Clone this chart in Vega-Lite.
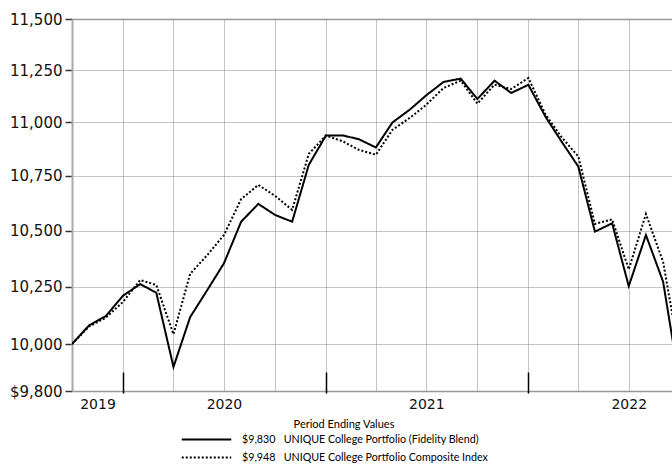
{
  "$schema": "https://vega.github.io/schema/vega-lite/v6.json",
  "width": 600,
  "height": 372,
  "autosize": {"type": "none"},
  "padding": {"left": 72, "top": 19, "right": 0, "bottom": 76},
  "background": "white",
  "config": {"view": {"stroke": null}},
  "datasets": {
    "vals": [
      {"d":"2019-09-30","s":"F","v":10000},{"d":"2019-10-31","s":"F","v":10081},{"d":"2019-11-30","s":"F","v":10121},{"d":"2019-12-31","s":"F","v":10210},
      {"d":"2020-01-31","s":"F","v":10261},{"d":"2020-02-29","s":"F","v":10223},{"d":"2020-03-31","s":"F","v":9902},{"d":"2020-04-30","s":"F","v":10116},
      {"d":"2020-05-31","s":"F","v":10235},{"d":"2020-06-30","s":"F","v":10353},{"d":"2020-07-31","s":"F","v":10540},{"d":"2020-08-31","s":"F","v":10621},
      {"d":"2020-09-30","s":"F","v":10571},{"d":"2020-10-31","s":"F","v":10540},{"d":"2020-11-30","s":"F","v":10801},{"d":"2020-12-31","s":"F","v":10938},
      {"d":"2021-01-31","s":"F","v":10938},{"d":"2021-02-28","s":"F","v":10921},{"d":"2021-03-31","s":"F","v":10882},{"d":"2021-04-30","s":"F","v":11000},
      {"d":"2021-05-31","s":"F","v":11060},{"d":"2021-06-30","s":"F","v":11129},{"d":"2021-07-31","s":"F","v":11193},{"d":"2021-08-31","s":"F","v":11209},
      {"d":"2021-09-30","s":"F","v":11111},{"d":"2021-10-31","s":"F","v":11199},{"d":"2021-11-30","s":"F","v":11140},{"d":"2021-12-31","s":"F","v":11179},
      {"d":"2022-01-31","s":"F","v":11026},{"d":"2022-02-28","s":"F","v":10913},{"d":"2022-03-31","s":"F","v":10793},{"d":"2022-04-30","s":"F","v":10495},
      {"d":"2022-05-31","s":"F","v":10533},{"d":"2022-06-30","s":"F","v":10252},{"d":"2022-07-31","s":"F","v":10480},{"d":"2022-08-31","s":"F","v":10271},
      {"d":"2022-09-30","s":"F","v":9830},
      {"d":"2019-09-30","s":"I","v":10000},{"d":"2019-10-31","s":"I","v":10076},{"d":"2019-11-30","s":"I","v":10114},{"d":"2019-12-31","s":"I","v":10183},
      {"d":"2020-01-31","s":"I","v":10279},{"d":"2020-02-29","s":"I","v":10257},{"d":"2020-03-31","s":"I","v":10042},{"d":"2020-04-30","s":"I","v":10306},
      {"d":"2020-05-31","s":"I","v":10390},{"d":"2020-06-30","s":"I","v":10480},{"d":"2020-07-31","s":"I","v":10643},{"d":"2020-08-31","s":"I","v":10708},
      {"d":"2020-09-30","s":"I","v":10658},{"d":"2020-10-31","s":"I","v":10594},{"d":"2020-11-30","s":"I","v":10852},{"d":"2020-12-31","s":"I","v":10938},
      {"d":"2021-01-31","s":"I","v":10910},{"d":"2021-02-28","s":"I","v":10871},{"d":"2021-03-31","s":"I","v":10848},{"d":"2021-04-30","s":"I","v":10965},
      {"d":"2021-05-31","s":"I","v":11021},{"d":"2021-06-30","s":"I","v":11084},{"d":"2021-07-31","s":"I","v":11164},{"d":"2021-08-31","s":"I","v":11199},
      {"d":"2021-09-30","s":"I","v":11089},{"d":"2021-10-31","s":"I","v":11180},{"d":"2021-11-30","s":"I","v":11159},{"d":"2021-12-31","s":"I","v":11212},
      {"d":"2022-01-31","s":"I","v":11037},{"d":"2022-02-28","s":"I","v":10933},{"d":"2022-03-31","s":"I","v":10840},{"d":"2022-04-30","s":"I","v":10530},
      {"d":"2022-05-31","s":"I","v":10551},{"d":"2022-06-30","s":"I","v":10326},{"d":"2022-07-31","s":"I","v":10575},{"d":"2022-08-31","s":"I","v":10359},
      {"d":"2022-09-30","s":"I","v":9948}
    ]
  },
  "data": {"name": "vals"},
  "layer": [
    {
      "mark": {"type": "line", "color": "black", "strokeWidth": 2, "clip": true},
      "encoding": {
        "x": {
          "field": "d", "type": "temporal",
          "scale": {"domain": [{"year": 2019, "month": 9, "date": 30, "utc": true}, {"year": 2022, "month": 9, "date": 16, "utc": true}]},
          "axis": {
            "orient": "bottom", "title": null, "labels": false, "ticks": false,
            "domain": true, "domainColor": "#999", "domainWidth": 1.5,
            "grid": true, "gridColor": "#888", "gridDash": [1, 1], "gridWidth": 1,
            "values": [
              {"year": 2019, "month": 9, "date": 30, "utc": true},
              {"year": 2019, "month": 12, "date": 31, "utc": true},
              {"year": 2020, "month": 3, "date": 31, "utc": true},
              {"year": 2020, "month": 6, "date": 30, "utc": true},
              {"year": 2020, "month": 9, "date": 30, "utc": true},
              {"year": 2020, "month": 12, "date": 31, "utc": true},
              {"year": 2021, "month": 3, "date": 31, "utc": true},
              {"year": 2021, "month": 6, "date": 30, "utc": true},
              {"year": 2021, "month": 9, "date": 30, "utc": true},
              {"year": 2021, "month": 12, "date": 31, "utc": true},
              {"year": 2022, "month": 3, "date": 31, "utc": true},
              {"year": 2022, "month": 6, "date": 30, "utc": true}
            ]
          }
        },
        "y": {
          "field": "v", "type": "quantitative",
          "scale": {"type": "log", "domain": [9800, 11500], "nice": false},
          "axis": {
            "title": null,
            "values": [9800, 10000, 10250, 10500, 10750, 11000, 11250, 11500],
            "labelExpr": "datum.value == 9800 ? '$9,800' : format(datum.value, ',')",
            "labelFont": "DejaVu Sans", "labelFontSize": 15, "labelColor": "#111", "labelPadding": 3,
            "tickSize": 7, "tickColor": "#333", "tickWidth": 1.5,
            "domainColor": "#aaa", "domainWidth": 2,
            "grid": true,
            "gridColor": {"condition": {"test": "datum.value == 11500", "value": "#999"}, "value": "#888"},
            "gridDash": {"condition": {"test": "datum.value == 11500", "value": []}, "value": [1, 1]},
            "gridWidth": {"condition": {"test": "datum.value == 11500", "value": 1.5}, "value": 1}
          }
        },
        "strokeDash": {
          "field": "s", "type": "nominal",
          "scale": {"domain": ["F", "I"], "range": [[1, 0], [2, 2]]},
          "legend": {
            "orient": "none", "legendX": 129, "legendY": 400, "padding": 0,
            "title": "Period Ending Values", "titleFont": "Lato", "titleFontSize": 11, "titleFontWeight": "normal",
            "titleColor": "black", "titleAnchor": "middle", "titlePadding": 4,
            "labelFont": "Lato", "labelFontSize": 10.7, "labelColor": "black", "labelLimit": 400, "labelOffset": 30,
            "labelExpr": "datum.value == 'F' ? '$9,830\u00a0\u00a0\u00a0UNIQUE College Portfolio (Fidelity Blend)' : '$9,948\u00a0\u00a0\u00a0UNIQUE College Portfolio Composite Index'",
            "symbolType": "M-6,0H6", "symbolSize": 68, "symbolStrokeWidth": 2, "symbolStrokeColor": "black",
            "rowPadding": 6,
            "encode": {"symbols": {"update": {"strokeDash": {"signal": "datum.value === 'I' ? [4, 3] : [1, 0]"}}}}
          }
        }
      }
    },
    {
      "mark": {"type": "line", "opacity": 0},
      "encoding": {
        "x": {
          "field": "d", "type": "temporal",
          "axis": {
            "orient": "bottom", "title": null, "labels": false, "domain": false, "grid": false,
            "offset": 2, "tickSize": -21, "tickColor": "black", "tickWidth": 1.5,
            "values": [
              {"year": 2019, "month": 12, "date": 31, "utc": true},
              {"year": 2020, "month": 12, "date": 31, "utc": true},
              {"year": 2021, "month": 12, "date": 31, "utc": true}
            ]
          }
        },
        "detail": {"field": "s"}
      }
    },
    {
      "mark": {"type": "line", "opacity": 0},
      "encoding": {
        "x": {
          "field": "d", "type": "temporal",
          "axis": {
            "orient": "bottom", "title": null, "ticks": false, "domain": false, "grid": false,
            "labelExpr": "utcFormat(datum.value, '%Y')", "labelOverlap": false, "labelFlush": false,
            "labelFont": "DejaVu Sans", "labelFontSize": 14, "labelColor": "#111", "labelPadding": 6,
            "values": [
              {"year": 2019, "month": 11, "date": 15, "utc": true},
              {"year": 2020, "month": 6, "date": 30, "utc": true},
              {"year": 2021, "month": 6, "date": 30, "utc": true},
              {"year": 2022, "month": 6, "date": 30, "utc": true}
            ]
          }
        },
        "detail": {"field": "s"}
      }
    }
  ],
  "resolve": {"axis": {"x": "independent"}}
}
